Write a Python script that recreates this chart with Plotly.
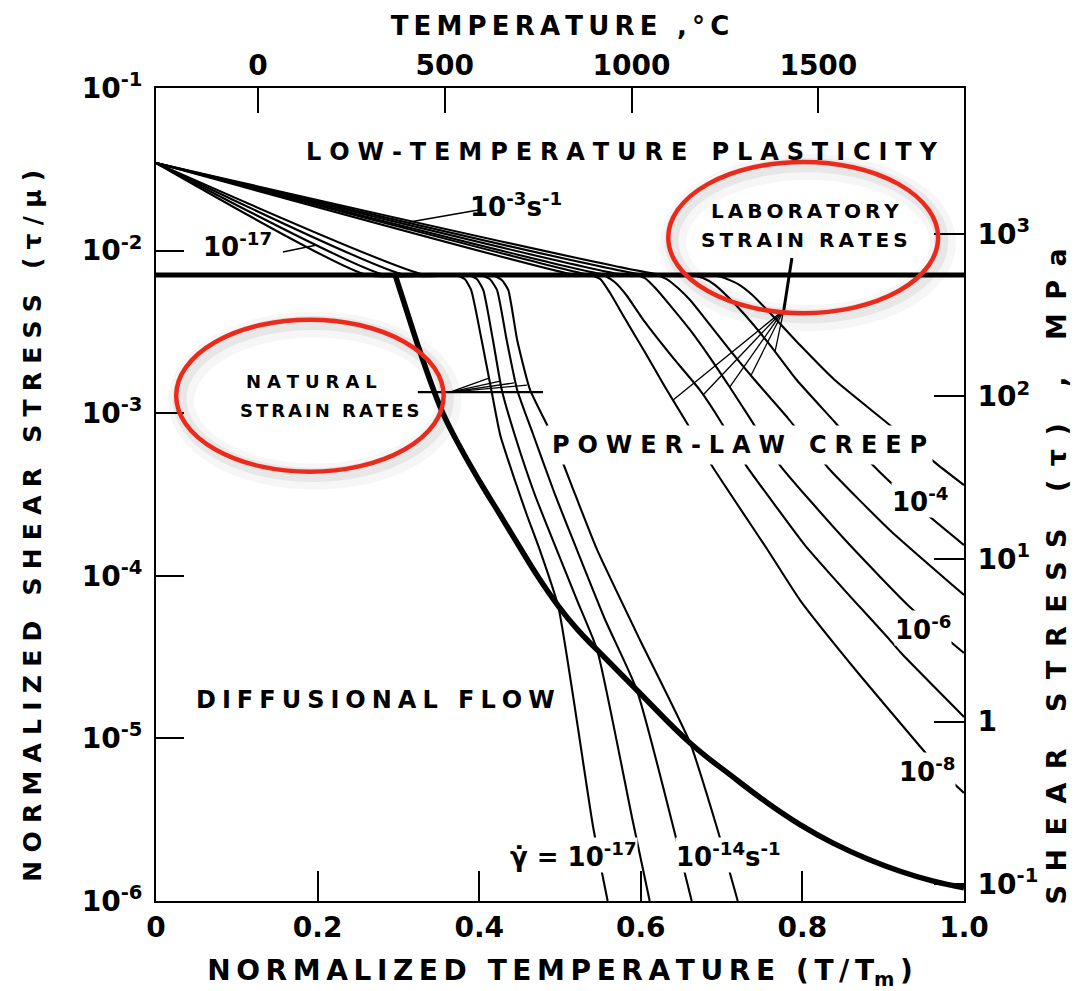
import math
import plotly.graph_objects as go

# ---------------- constants for the secondary scales ----------------
T_MELT_K = 2163.0            # melting temperature (K) used for the top deg C axis
SHEAR_MODULUS_MPA = 7.89e4   # shear modulus (MPa) used for the right MPa axis

# ---------------- axis ticks ----------------
x_tick_vals = [0.0, 0.2, 0.4, 0.6, 0.8, 1.0]
x_tick_text = ["0", "0.2", "0.4", "0.6", "0.8", "1.0"]
top_tick_vals = [0, 500, 1000, 1500]
top_tick_text = ["0", "500", "1000", "1500"]
y_tick_vals = [1e-6, 1e-5, 1e-4, 1e-3, 1e-2, 1e-1]
y_tick_text = ["10<sup>-6</sup>", "10<sup>-5</sup>", "10<sup>-4</sup>",
               "10<sup>-3</sup>", "10<sup>-2</sup>", "10<sup>-1</sup>"]
mpa_tick_vals = [1e-1, 1, 10, 100, 1000]
mpa_tick_text = ["10<sup>-1</sup>", "1", "10<sup>1</sup>", "10<sup>2</sup>", "10<sup>3</sup>"]

# ---------------- field boundaries (x = T/Tm, y = log10(tau/mu)) ----------------
plast_bound_x = [0.0, 1.0]
plast_bound_log = [-2.15, -2.15]

diff_bound_x = [0.296, 0.308, 0.324, 0.339, 0.355, 0.377, 0.401, 0.426, 0.450, 0.473, 0.498, 0.522,
                0.546, 0.595, 0.661, 0.714, 0.756, 0.797, 0.838, 0.880, 0.921, 0.962, 1.0]
diff_bound_log = [-2.150, -2.335, -2.581, -2.796, -2.999, -3.214, -3.423, -3.626, -3.823, -4.007, -4.186,
                  -4.333, -4.456, -4.702, -5.028, -5.237, -5.394, -5.530, -5.644, -5.740, -5.817,
                  -5.878, -5.919]

# ---------------- natural strain-rate contours ----------------
nat_17_x = [0.0, 0.261, 0.370, 0.382, 0.390, 0.403, 0.415, 0.426, 0.444, 0.459, 0.475, 0.498, 0.541, 0.559]
nat_17_log = [-1.461, -2.150, -2.150, -2.175, -2.242, -2.550, -2.857, -3.134, -3.411, -3.626, -3.841, -4.192, -5.545, -6.0]

nat_16_x = [0.0, 0.283, 0.386, 0.397, 0.405, 0.417, 0.428, 0.444, 0.469, 0.496, 0.521, 0.546, 0.589, 0.611]
nat_16_log = [-1.461, -2.150, -2.150, -2.175, -2.242, -2.550, -2.857, -3.134, -3.503, -3.841, -4.149, -4.456, -5.483, -6.0]

nat_15_x = [0.0, 0.308, 0.401, 0.413, 0.422, 0.434, 0.447, 0.467, 0.494, 0.521, 0.556, 0.595, 0.663]
nat_15_log = [-1.461, -2.150, -2.150, -2.175, -2.242, -2.550, -2.857, -3.134, -3.503, -3.841, -4.272, -4.702, -6.0]

nat_14_x = [0.0, 0.333, 0.416, 0.428, 0.436, 0.447, 0.463, 0.490, 0.519, 0.546, 0.599, 0.661, 0.694, 0.720]
nat_14_log = [-1.461, -2.150, -2.150, -2.181, -2.242, -2.550, -2.857, -3.134, -3.503, -3.841, -4.395, -5.028, -5.545, -6.0]

# ---------------- laboratory strain-rate contours ----------------
lab_8_x = [0.0, 0.519, 0.537, 0.550, 0.562, 0.580, 0.605, 0.630, 0.657, 0.689, 0.757, 0.797, 0.871, 0.942, 0.974, 1.0]
lab_8_log = [-1.461, -2.150, -2.150, -2.175, -2.261, -2.415, -2.624, -2.839, -3.060, -3.331, -3.841, -4.149, -4.610, -5.028, -5.213, -5.336]

lab_7_x = [0.0, 0.537, 0.556, 0.569, 0.582, 0.605, 0.639, 0.673, 0.700, 0.730, 0.766, 0.803, 0.861, 0.905, 0.921, 1.0]
lab_7_log = [-1.461, -2.150, -2.156, -2.199, -2.273, -2.439, -2.654, -2.857, -3.060, -3.319, -3.565, -3.811, -4.137, -4.376, -4.469, -4.868]

lab_6_x = [0.0, 0.558, 0.593, 0.605, 0.618, 0.636, 0.661, 0.686, 0.710, 0.735, 0.772, 0.853, 0.933, 1.0]
lab_6_log = [-1.461, -2.150, -2.150, -2.169, -2.230, -2.335, -2.488, -2.661, -2.839, -3.030, -3.319, -3.780, -4.192, -4.475]

lab_5_x = [0.0, 0.580, 0.618, 0.632, 0.646, 0.661, 0.679, 0.710, 0.741, 0.782, 0.832, 0.908, 1.0]
lab_5_log = [-1.461, -2.150, -2.150, -2.175, -2.230, -2.304, -2.415, -2.611, -2.796, -3.030, -3.337, -3.718, -4.118]

lab_4_x = [0.0, 0.605, 0.661, 0.677, 0.692, 0.708, 0.729, 0.760, 0.793, 0.840, 0.887, 0.933, 1.0]
lab_4_log = [-1.461, -2.150, -2.150, -2.169, -2.212, -2.285, -2.396, -2.581, -2.796, -3.054, -3.319, -3.534, -3.811]

lab_3_x = [0.0, 0.627, 0.679, 0.700, 0.720, 0.738, 0.760, 0.797, 0.840, 0.905, 0.968, 1.0]
lab_3_log = [-1.461, -2.150, -2.150, -2.162, -2.205, -2.273, -2.384, -2.581, -2.796, -3.060, -3.319, -3.442]

# ---------------- leader lines ----------------
lead_17_x = [0.157, 0.199]
lead_17_log = [-2.009, -1.966]
lead_3_x = [0.314, 0.399]
lead_3_log = [-1.824, -1.750]
nat_lead_bar_x = [0.324, 0.479]
nat_lead_bar_log = [-2.870, -2.870]
nat_fan_origin = (0.364, -2.870)
nat_fan_end_x = [0.412, 0.426, 0.443, 0.459]
nat_fan_end_log = [-2.784, -2.802, -2.814, -2.827]
lab_stem_x = [0.787, 0.777]
lab_stem_log = [-2.046, -2.365]
lab_fan_end_x = [0.640, 0.677, 0.710, 0.736, 0.766]
lab_fan_end_log = [-2.919, -2.888, -2.839, -2.771, -2.624]

FONT = "DejaVu Sans"
SP = {"hair": "\u200a", "six": "\u2006", "thin": "\u2009", "four": "\u2005", "three": "\u2004", "en": "\u2002"}


def spaced(s, gap):
    return gap.join(s)


def curve(xs, logs, width=2.0, shape="linear", smoothing=0.0, xaxis="x", yaxis="y"):
    line = dict(color="black", width=width, shape=shape)
    if shape == "spline":
        line["smoothing"] = smoothing
    return go.Scatter(x=xs, y=[10 ** v for v in logs], mode="lines", line=line,
                      hoverinfo="skip", showlegend=False, xaxis=xaxis, yaxis=yaxis)


fig = go.Figure()

# strain-rate contours
for xs, ls in [(nat_17_x, nat_17_log), (nat_16_x, nat_16_log), (nat_15_x, nat_15_log), (nat_14_x, nat_14_log),
               (lab_8_x, lab_8_log), (lab_7_x, lab_7_log), (lab_6_x, lab_6_log), (lab_5_x, lab_5_log),
               (lab_4_x, lab_4_log), (lab_3_x, lab_3_log)]:
    fig.add_trace(curve(xs, ls, 2.1, "spline", 0.5))

# leaders
fig.add_trace(curve(lead_17_x, lead_17_log, 1.6))
fig.add_trace(curve(lead_3_x, lead_3_log, 1.6))
fig.add_trace(curve(nat_lead_bar_x, nat_lead_bar_log, 2.2))
for ex, el in zip(nat_fan_end_x, nat_fan_end_log):
    fig.add_trace(curve([nat_fan_origin[0], ex], [nat_fan_origin[1], el], 1.3))
fig.add_trace(curve(lab_stem_x, lab_stem_log, 3.0))
for ex, el in zip(lab_fan_end_x, lab_fan_end_log):
    fig.add_trace(curve([lab_stem_x[-1], ex], [lab_stem_log[-1], el], 1.3))

# thick field boundaries
fig.add_trace(curve(plast_bound_x, plast_bound_log, 5.0))
fig.add_trace(curve(diff_bound_x, diff_bound_log, 5.5, "spline", 1.2))

# secondary-axis carriers (invisible) so the top and right scales are drawn
fig.add_trace(go.Scatter(x=[-273.15, T_MELT_K - 273.15], y=[1e-6, 1e-1], mode="lines",
                         line=dict(width=0, color="rgba(0,0,0,0)"), hoverinfo="skip",
                         showlegend=False, xaxis="x2", yaxis="y"))
fig.add_trace(go.Scatter(x=[0, 1], y=[1e-6 * SHEAR_MODULUS_MPA, 1e-1 * SHEAR_MODULUS_MPA], mode="lines",
                         line=dict(width=0, color="rgba(0,0,0,0)"), hoverinfo="skip",
                         showlegend=False, xaxis="x", yaxis="y2"))

# ---------------- text labels ----------------
labels = [
    (0.577, -1.394, spaced("LOW-TEMPERATURE PLASTICITY", SP["three"]), 24, None, 0),
    (0.803, -1.756, spaced("LABORATORY", SP["thin"]), 20, None, 0),
    (0.803, -1.935, spaced("STRAIN RATES", SP["thin"]), 20, None, 0),
    (0.193, -2.802, spaced("NATURAL", SP["three"]), 18, None, 0),
    (0.215, -2.986, spaced("STRAIN RATES", SP["six"]), 18, None, 0),
    (0.722, -3.196, spaced("POWER-LAW CREEP", SP["three"]), 24, "white", 5),
    (0.272, -4.764, spaced("DIFFUSIONAL FLOW", SP["four"]), 24, None, 0),
    (0.446, -1.72, "10<sup>-3</sup>s<sup>-1</sup>", 26, None, 0),
    (0.101, -1.966, "10<sup>-17</sup>", 26, None, 0),
    (0.946, -3.534, "10<sup>-4</sup>", 26, "white", 0),
    (0.949, -4.321, "10<sup>-6</sup>", 26, "white", 0),
    (0.954, -5.194, "10<sup>-8</sup>", 26, "white", 0),
    (0.517, -5.717, "\u03b3\u0307 = 10<sup>-17</sup>", 26, "white", 0),
    (0.708, -5.717, "10<sup>-14</sup>s<sup>-1</sup>", 26, "white", 0),
]
for lx, ly, txt, size, bg, pad in labels:
    fig.add_annotation(x=lx, y=ly, xref="x", yref="y", text=txt, showarrow=False,
                       font=dict(family=FONT, size=size, color="black", weight="bold"),
                       bgcolor=bg if bg else "rgba(0,0,0,0)", borderpad=pad,
                       xanchor="center", yanchor="middle")

# vertical axis titles (placed as annotations so they sit where the reference puts them)
left_title = spaced("NORMALIZED SHEAR STRESS (\u03c4/\u03bc)", SP["three"])
right_title = spaced("SHEAR STRESS (\u03c4) , MPa", SP["en"])
fig.add_annotation(x=-0.153, y=0.462, xref="paper", yref="paper", text=left_title, textangle=-90,
                   showarrow=False, font=dict(family=FONT, size=25, color="black", weight="bold"),
                   xanchor="center", yanchor="middle")
fig.add_annotation(x=1.115, y=0.399, xref="paper", yref="paper", text=right_title, textangle=-90,
                   showarrow=False, font=dict(family=FONT, size=27, color="black", weight="bold"),
                   xanchor="center", yanchor="middle")

# ---------------- red highlight ellipses (paper coordinates of the plot area) ----------------
ellipses = [(0.634, 0.723, 0.968, 0.909), (0.025, 0.528, 0.356, 0.715)]
shapes = []
for x0, y0, x1, y1 in ellipses:
    for w, a, d in [(26, 0.035, 0.006), (14, 0.06, 0.004)]:
        shapes.append(dict(type="circle", xref="paper", yref="paper", x0=x0 + d, x1=x1 + d,
                           y0=y0 - d, y1=y1 - d, line=dict(color=f"rgba(0,0,0,{a})", width=w), layer="above"))
for x0, y0, x1, y1 in ellipses:
    shapes.append(dict(type="circle", xref="paper", yref="paper", x0=x0, x1=x1, y0=y0, y1=y1,
                       line=dict(color="#ec2a1c", width=4.5), layer="above"))

axis_common = dict(showline=True, linewidth=2, linecolor="black", mirror=False, showgrid=False,
                   zeroline=False, ticks="inside", tickcolor="black", tickwidth=1.8)

bottom_title = spaced("NORMALIZED TEMPERATURE (T/T", SP["thin"]) + "<sub>m</sub>" + SP["thin"] + ")"
top_title = spaced("TEMPERATURE ,\u00b0C", SP["thin"])

fig.update_layout(
    width=1074, height=991,
    margin=dict(l=156, r=110, t=88, b=90, autoexpand=False),
    paper_bgcolor="white", plot_bgcolor="white", showlegend=False,
    font=dict(family=FONT, color="black", size=24, weight="bold"),
    shapes=shapes,
    xaxis=dict(range=[0, 1], tickvals=x_tick_vals, ticktext=x_tick_text, ticklen=30,
               tickfont=dict(size=28, family=FONT, weight="bold"),
               title=dict(text=bottom_title, font=dict(size=28, family=FONT, weight="bold"), standoff=18),
               **axis_common),
    xaxis2=dict(overlaying="x", side="top", range=[-273.15, T_MELT_K - 273.15],
                tickvals=top_tick_vals, ticktext=top_tick_text, ticklen=25,
                tickfont=dict(size=28, family=FONT, weight="bold"),
                title=dict(text=top_title, font=dict(size=26, family=FONT, weight="bold"), standoff=6),
                **axis_common),
    yaxis=dict(type="log", range=[-6, -1], tickvals=y_tick_vals, ticktext=y_tick_text, ticklen=28,
               tickfont=dict(size=28, family=FONT, weight="bold"), ticklabelstandoff=6,
               **axis_common),
    yaxis2=dict(type="log", overlaying="y", side="right",
                range=[math.log10(1e-6 * SHEAR_MODULUS_MPA), math.log10(1e-1 * SHEAR_MODULUS_MPA)],
                tickvals=mpa_tick_vals, ticktext=mpa_tick_text, ticklen=30,
                tickfont=dict(size=28, family=FONT, weight="bold"), ticklabelstandoff=6,
                **axis_common),
)

fig.write_html("out.html")
